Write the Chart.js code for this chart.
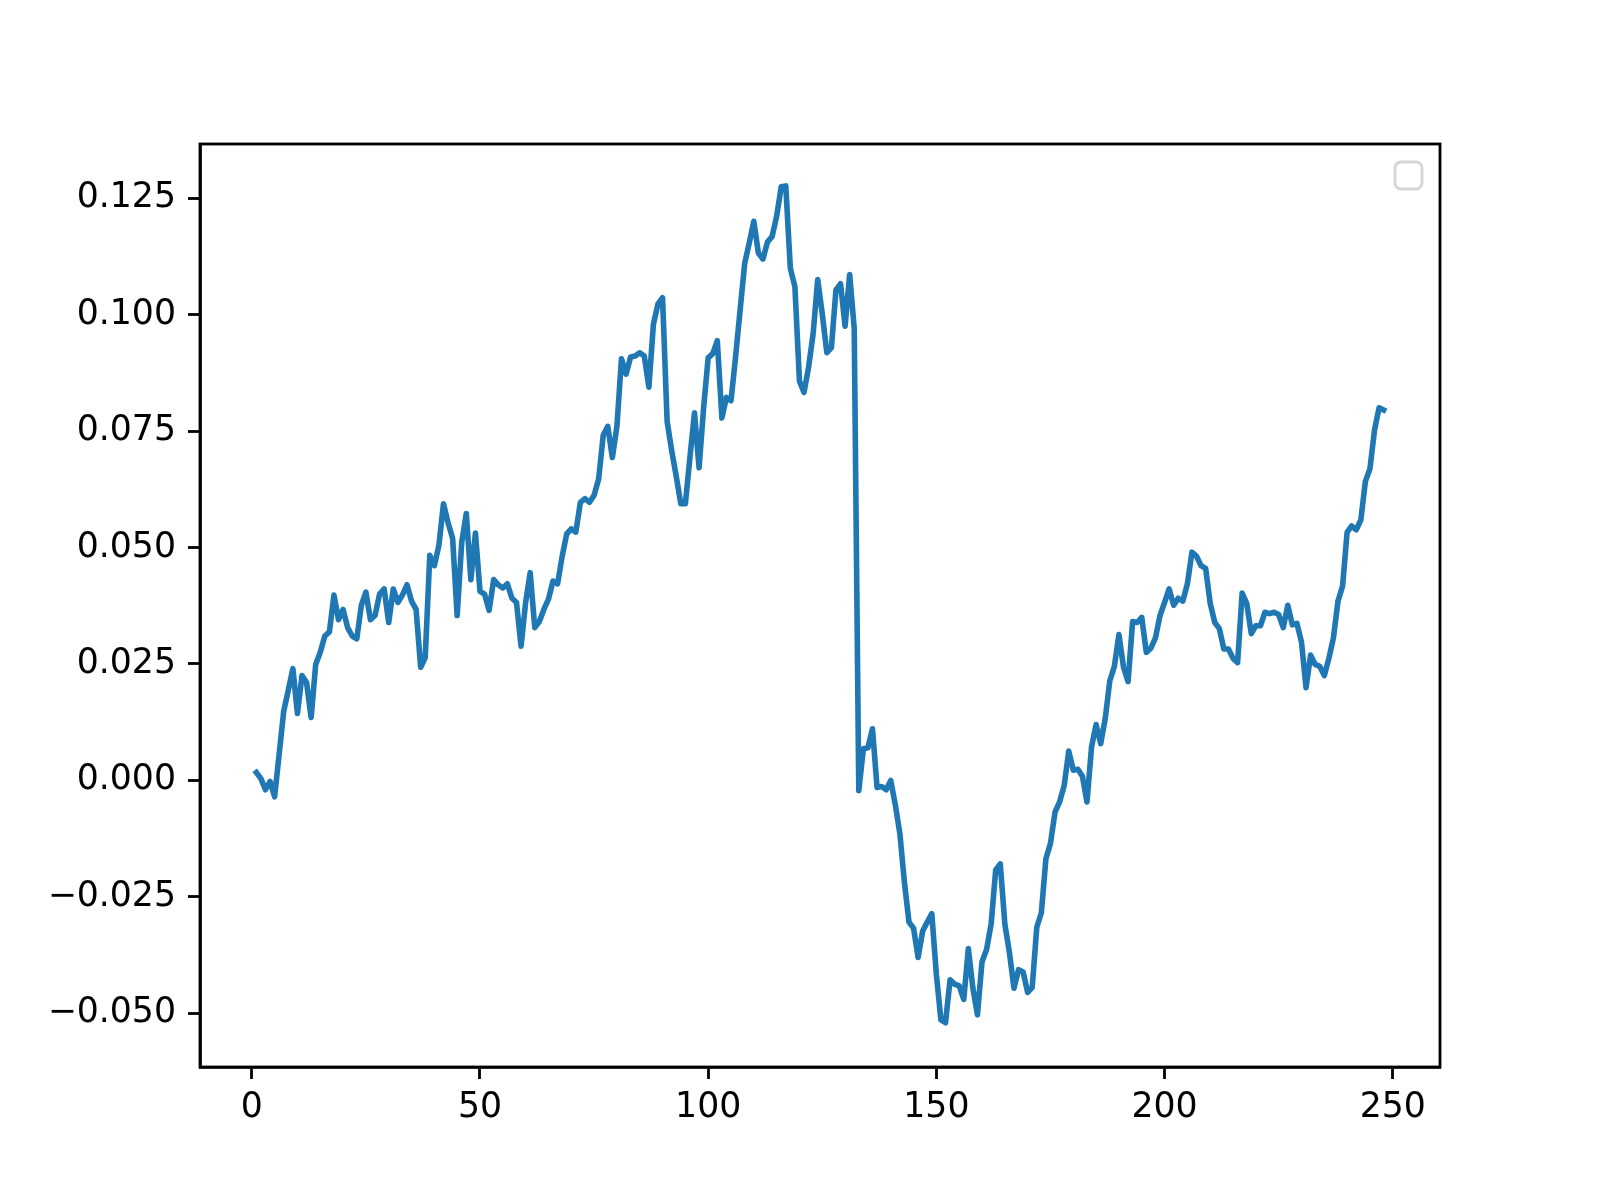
<!DOCTYPE html>
<html>
<head>
<meta charset="utf-8">
<script src="https://cdn.jsdelivr.net/npm/chart.js@4/dist/chart.umd.min.js"></script>
<style>
  html, body { margin: 0; padding: 0; background: #fff; }
  canvas { display: block; }
</style>
</head>
<body>
<canvas id="linechart" width="1600" height="1200"></canvas>
<script>
// values, x runs 1..248
var values = [
  0.0017, 0.0004, -0.0020, -0.0002, -0.0035, 0.0057, 0.0149, 0.0194, 0.0240, 0.0144,
  0.0225, 0.0210, 0.0135, 0.0249, 0.0275, 0.0310, 0.0319, 0.0398, 0.0345, 0.0367,
  0.0328, 0.0310, 0.0304, 0.0376, 0.0404, 0.0345, 0.0354, 0.0400, 0.0411, 0.0339,
  0.0411, 0.0382, 0.0398, 0.0420, 0.0385, 0.0367, 0.0243, 0.0264, 0.0483, 0.0461,
  0.0505, 0.0594, 0.0553, 0.0520, 0.0354, 0.0511, 0.0573, 0.0431, 0.0531, 0.0406,
  0.0400, 0.0365, 0.0431, 0.0420, 0.0413, 0.0422, 0.0391, 0.0382, 0.0288, 0.0382,
  0.0446, 0.0328, 0.0341, 0.0367, 0.0389, 0.0428, 0.0422, 0.0481, 0.0529, 0.0540,
  0.0533, 0.0597, 0.0605, 0.0597, 0.0612, 0.0647, 0.0741, 0.0760, 0.0693, 0.0760,
  0.0905, 0.0872, 0.0909, 0.0911, 0.0918, 0.0911, 0.0844, 0.0979, 0.1023, 0.1036,
  0.0771, 0.0708, 0.0653, 0.0594, 0.0594, 0.0693, 0.0789, 0.0671, 0.0800, 0.0907,
  0.0916, 0.0944, 0.0778, 0.0822, 0.0815, 0.0909, 0.1010, 0.1110, 0.1154, 0.1200,
  0.1132, 0.1119, 0.1156, 0.1167, 0.1211, 0.1274, 0.1276, 0.1099, 0.1060, 0.0857,
  0.0833, 0.0887, 0.0959, 0.1075, 0.1001, 0.0918, 0.0929, 0.1053, 0.1066, 0.0975,
  0.1086, 0.0970, -0.0022, 0.0068, 0.0070, 0.0111, -0.0015, -0.0013, -0.0020, 0.0000,
  -0.0052, -0.0114, -0.0219, -0.0304, -0.0317, -0.0380, -0.0323, -0.0304, -0.0286, -0.0417,
  -0.0514, -0.0520, -0.0428, -0.0437, -0.0441, -0.0470, -0.0361, -0.0446, -0.0503, -0.0389,
  -0.0363, -0.0308, -0.0192, -0.0179, -0.0308, -0.0369, -0.0446, -0.0406, -0.0411, -0.0455,
  -0.0444, -0.0315, -0.0284, -0.0168, -0.0135, -0.0068, -0.0046, -0.0011, 0.0063, 0.0022,
  0.0024, 0.0009, -0.0046, 0.0072, 0.0120, 0.0079, 0.0133, 0.0214, 0.0245, 0.0313,
  0.0243, 0.0212, 0.0341, 0.0339, 0.0350, 0.0275, 0.0284, 0.0306, 0.0354, 0.0382,
  0.0411, 0.0376, 0.0391, 0.0385, 0.0422, 0.0490, 0.0481, 0.0461, 0.0455, 0.0380,
  0.0339, 0.0326, 0.0282, 0.0282, 0.0262, 0.0253, 0.0402, 0.0380, 0.0315, 0.0332,
  0.0332, 0.0361, 0.0358, 0.0361, 0.0356, 0.0328, 0.0376, 0.0334, 0.0337, 0.0297,
  0.0199, 0.0269, 0.0249, 0.0245, 0.0225, 0.0262, 0.0306, 0.0385, 0.0417, 0.0533,
  0.0546, 0.0538, 0.0559, 0.0642, 0.0669, 0.0752, 0.0800, 0.0795
];
var xTicks = [0, 50, 100, 150, 200, 250];
var yTicks = [-0.050, -0.025, 0.000, 0.025, 0.050, 0.075, 0.100, 0.125];

//pair every value with its step number, starting at 1
var points = values.map((v, i) => ({ x: i + 1, y: v }));

//draw the closed black frame and the empty legend box like matplotlib does
const framePlugin = {
  id: 'frame',
  afterDraw(chart) {
    const c = chart.ctx;
    const a = chart.chartArea;
    c.save();
    c.strokeStyle = '#000';
    c.lineWidth = 2.8;
    c.strokeRect(a.left, a.top, a.right - a.left, a.bottom - a.top);
    //empty legend
    c.strokeStyle = '#d5d5d5';
    c.lineWidth = 2.8;
    c.beginPath();
    c.roundRect(a.right - 45, a.top + 18, 27, 27, 6);
    c.stroke();
    c.restore();
  }
};

const font = { family: 'DejaVu Sans', size: 34.7 };

new Chart(document.getElementById('linechart'), {
  type: 'line',
  data: {
    datasets: [{
      data: points,
      borderColor: '#1f77b4',
      borderWidth: 5.6,
      borderJoinStyle: 'round',
      borderCapStyle: 'square',
      pointRadius: 0,
      tension: 0,
      fill: false
    }]
  },
  options: {
    responsive: false,
    animation: false,
    layout: { padding: { left: 0, top: 144, right: 160, bottom: 0 } },
    plugins: { legend: { display: false }, tooltip: { enabled: false } },
    scales: {
      x: {
        type: 'linear',
        min: -11.35,
        max: 260.35,
        afterBuildTicks: (s) => { s.ticks = xTicks.map(v => ({ value: v })); },
        afterFit: (s) => { s.height = 133; },
        ticks: { font: font, color: '#000', padding: 8, maxRotation: 0, callback: (v) => String(v) },
        grid: { display: true, drawOnChartArea: false, drawTicks: true, tickLength: 12, tickWidth: 2.8, tickColor: '#000' },
        border: { display: true, color: '#000', width: 2.8 }
      },
      y: {
        type: 'linear',
        min: -0.0615,
        max: 0.1366,
        afterBuildTicks: (s) => { s.ticks = yTicks.map(v => ({ value: v })); },
        afterFit: (s) => { s.width = 200; },
        ticks: { font: font, color: '#000', padding: 12, callback: (v) => v.toFixed(3).replace('-', '\u2212') },
        grid: { display: true, drawOnChartArea: false, drawTicks: true, tickLength: 12, tickWidth: 2.8, tickColor: '#000' },
        border: { display: true, color: '#000', width: 2.8 }
      }
    }
  },
  plugins: [framePlugin]
});
</script>
</body>
</html>
